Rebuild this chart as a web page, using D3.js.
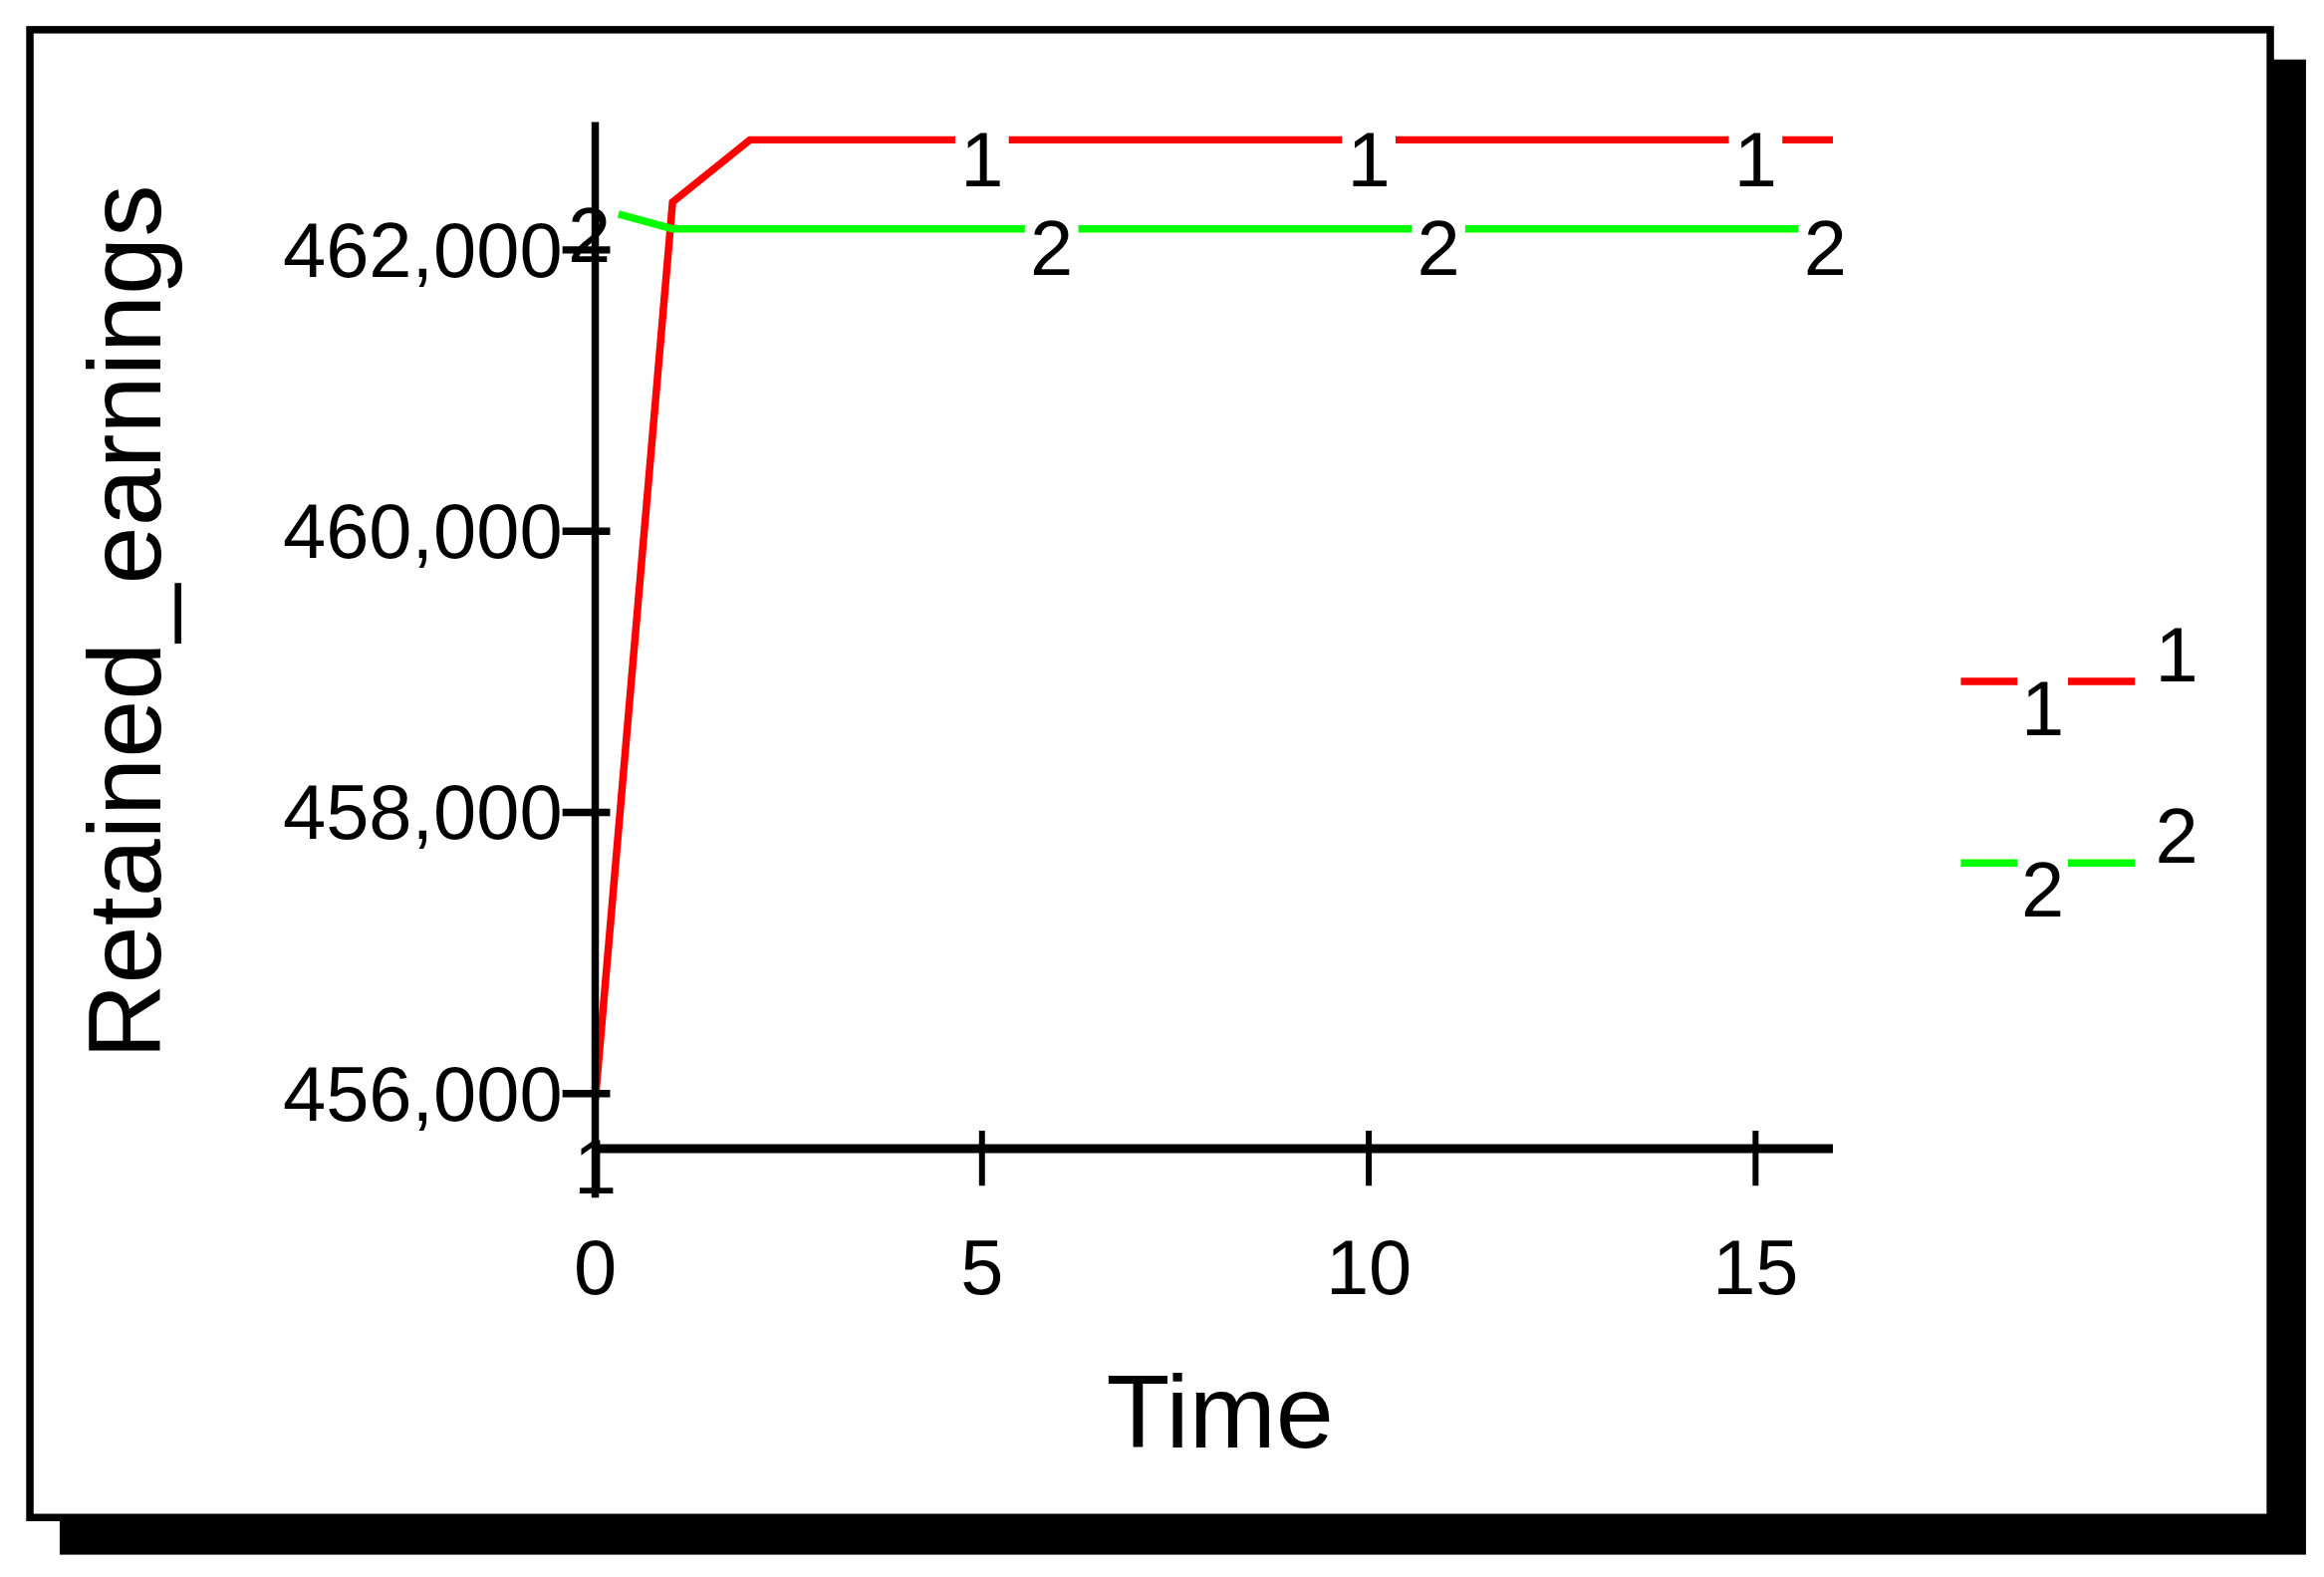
<!DOCTYPE html>
<html><head><meta charset="utf-8">
<script src="https://cdn.jsdelivr.net/npm/d3@7"></script>
<style>body{margin:0;background:#fff}svg{display:block}text{font-family:"Liberation Sans",Arial,sans-serif}</style>
</head><body>
<svg id="chart" width="2333" height="1583" viewBox="0 0 1562 1060"></svg>
<script>
// data
var timeDomain = [0, 16];
var xTicks = [0, 5, 10, 15];
var yTicks = [456000, 458000, 460000, 462000];
var seriesNames = ["1", "2"];
var colors = ["#ff0000", "#00ff00"];
var redTime = [0, 1, 2, 16];
var redValues = [455950, 462340, 462783, 462783];
var greenTime = [0.3, 1, 2, 16];
var greenValues = [462255, 462150, 462150, 462150];
var labelTimes = [[5, 10, 15], [5.9, 10.9, 15.9]];

var svg = d3.select("#chart");

// frame with shadow
svg.append("rect").attr("x", 40).attr("y", 40).attr("width", 1510).attr("height", 1005).attr("fill", "#000");
svg.append("rect").attr("x", 20).attr("y", 20).attr("width", 1506).attr("height", 1000)
    .attr("fill", "#fff").attr("stroke", "#000").attr("stroke-width", 5);

var x = d3.scaleLinear().domain(timeDomain).range([400, 1232]);
var y = d3.scaleLinear().domain([456000, 462000]).range([735, 168]);

var series = [
    redTime.map(function(t, i){ return [t, redValues[i]]; }),
    greenTime.map(function(t, i){ return [t, greenValues[i]]; })
];

var line = d3.line().x(function(d){ return x(d[0]); }).y(function(d){ return y(d[1]); });

series.forEach(function(s, i){
    svg.append("path").attr("d", line(s)).attr("fill", "none")
        .attr("stroke", colors[i]).attr("stroke-width", 5);
});

// curve number labels with gaps in the line
var valueAt = function(s, t){
    for (var k = 1; k < s.length; k++){
        if (t <= s[k][0]){
            var a = s[k-1], b = s[k];
            return a[1] + (b[1]-a[1]) * (t-a[0])/(b[0]-a[0]);
        }
    }
    return s[s.length-1][1];
};
series.forEach(function(s, i){
    labelTimes[i].forEach(function(t){
        var px = x(t), py = y(valueAt(s, t));
        svg.append("rect").attr("x", px-18).attr("y", py-5).attr("width", 36).attr("height", 10).attr("fill", "#fff");
        svg.append("text").attr("x", px).attr("y", py+31).attr("text-anchor", "middle")
            .attr("font-size", 52).text(seriesNames[i]);
    });
});

// axes
var axes = svg.append("g").attr("stroke", "#000");
axes.append("line").attr("x1", 400).attr("x2", 400).attr("y1", 82).attr("y2", 805).attr("stroke-width", 5);
axes.append("line").attr("x1", 398).attr("x2", 1232).attr("y1", 772).attr("y2", 772).attr("stroke-width", 6);

axes.selectAll(".yt").data(yTicks).enter().append("line")
    .attr("x1", 378).attr("x2", 410).attr("y1", y).attr("y2", y).attr("stroke-width", 5);
axes.selectAll(".xt").data(xTicks).enter().append("line")
    .attr("x1", x).attr("x2", x).attr("y1", 760).attr("y2", 797).attr("stroke-width", 4);

var fmt = d3.format(",");
svg.selectAll(".yl").data(yTicks).enter().append("text")
    .attr("x", 378).attr("y", function(d){ return y(d) + 18; }).attr("text-anchor", "end")
    .attr("font-size", 52).text(fmt);
svg.selectAll(".xl").data(xTicks).enter().append("text")
    .attr("x", x).attr("y", 870).attr("text-anchor", "middle").attr("font-size", 52).text(String);

// start-point labels
svg.append("text").attr("x", 396).attr("y", 176).attr("text-anchor", "middle").attr("font-size", 52).text("2");
svg.append("text").attr("x", 400).attr("y", 802).attr("text-anchor", "middle").attr("font-size", 52).text("1");

svg.append("text").attr("x", 820).attr("y", 973).attr("text-anchor", "middle").attr("font-size", 70).text("Time");
svg.append("text").attr("transform", "translate(108,418) rotate(-90)").attr("text-anchor", "middle")
    .attr("font-size", 70).text("Retained_earnings");

// legend
var legendY = [458, 580];
seriesNames.forEach(function(n, i){
    var ly = legendY[i];
    svg.append("line").attr("x1", 1318).attr("x2", 1435).attr("y1", ly).attr("y2", ly)
        .attr("stroke", colors[i]).attr("stroke-width", 5);
    svg.append("rect").attr("x", 1356).attr("y", ly-5).attr("width", 34).attr("height", 10).attr("fill", "#fff");
    svg.append("text").attr("x", 1373).attr("y", ly+36).attr("text-anchor", "middle").attr("font-size", 52).text(n);
    svg.append("text").attr("x", 1463).attr("y", ly+0).attr("text-anchor", "middle").attr("font-size", 52).text(n);
});
</script>
</body></html>
